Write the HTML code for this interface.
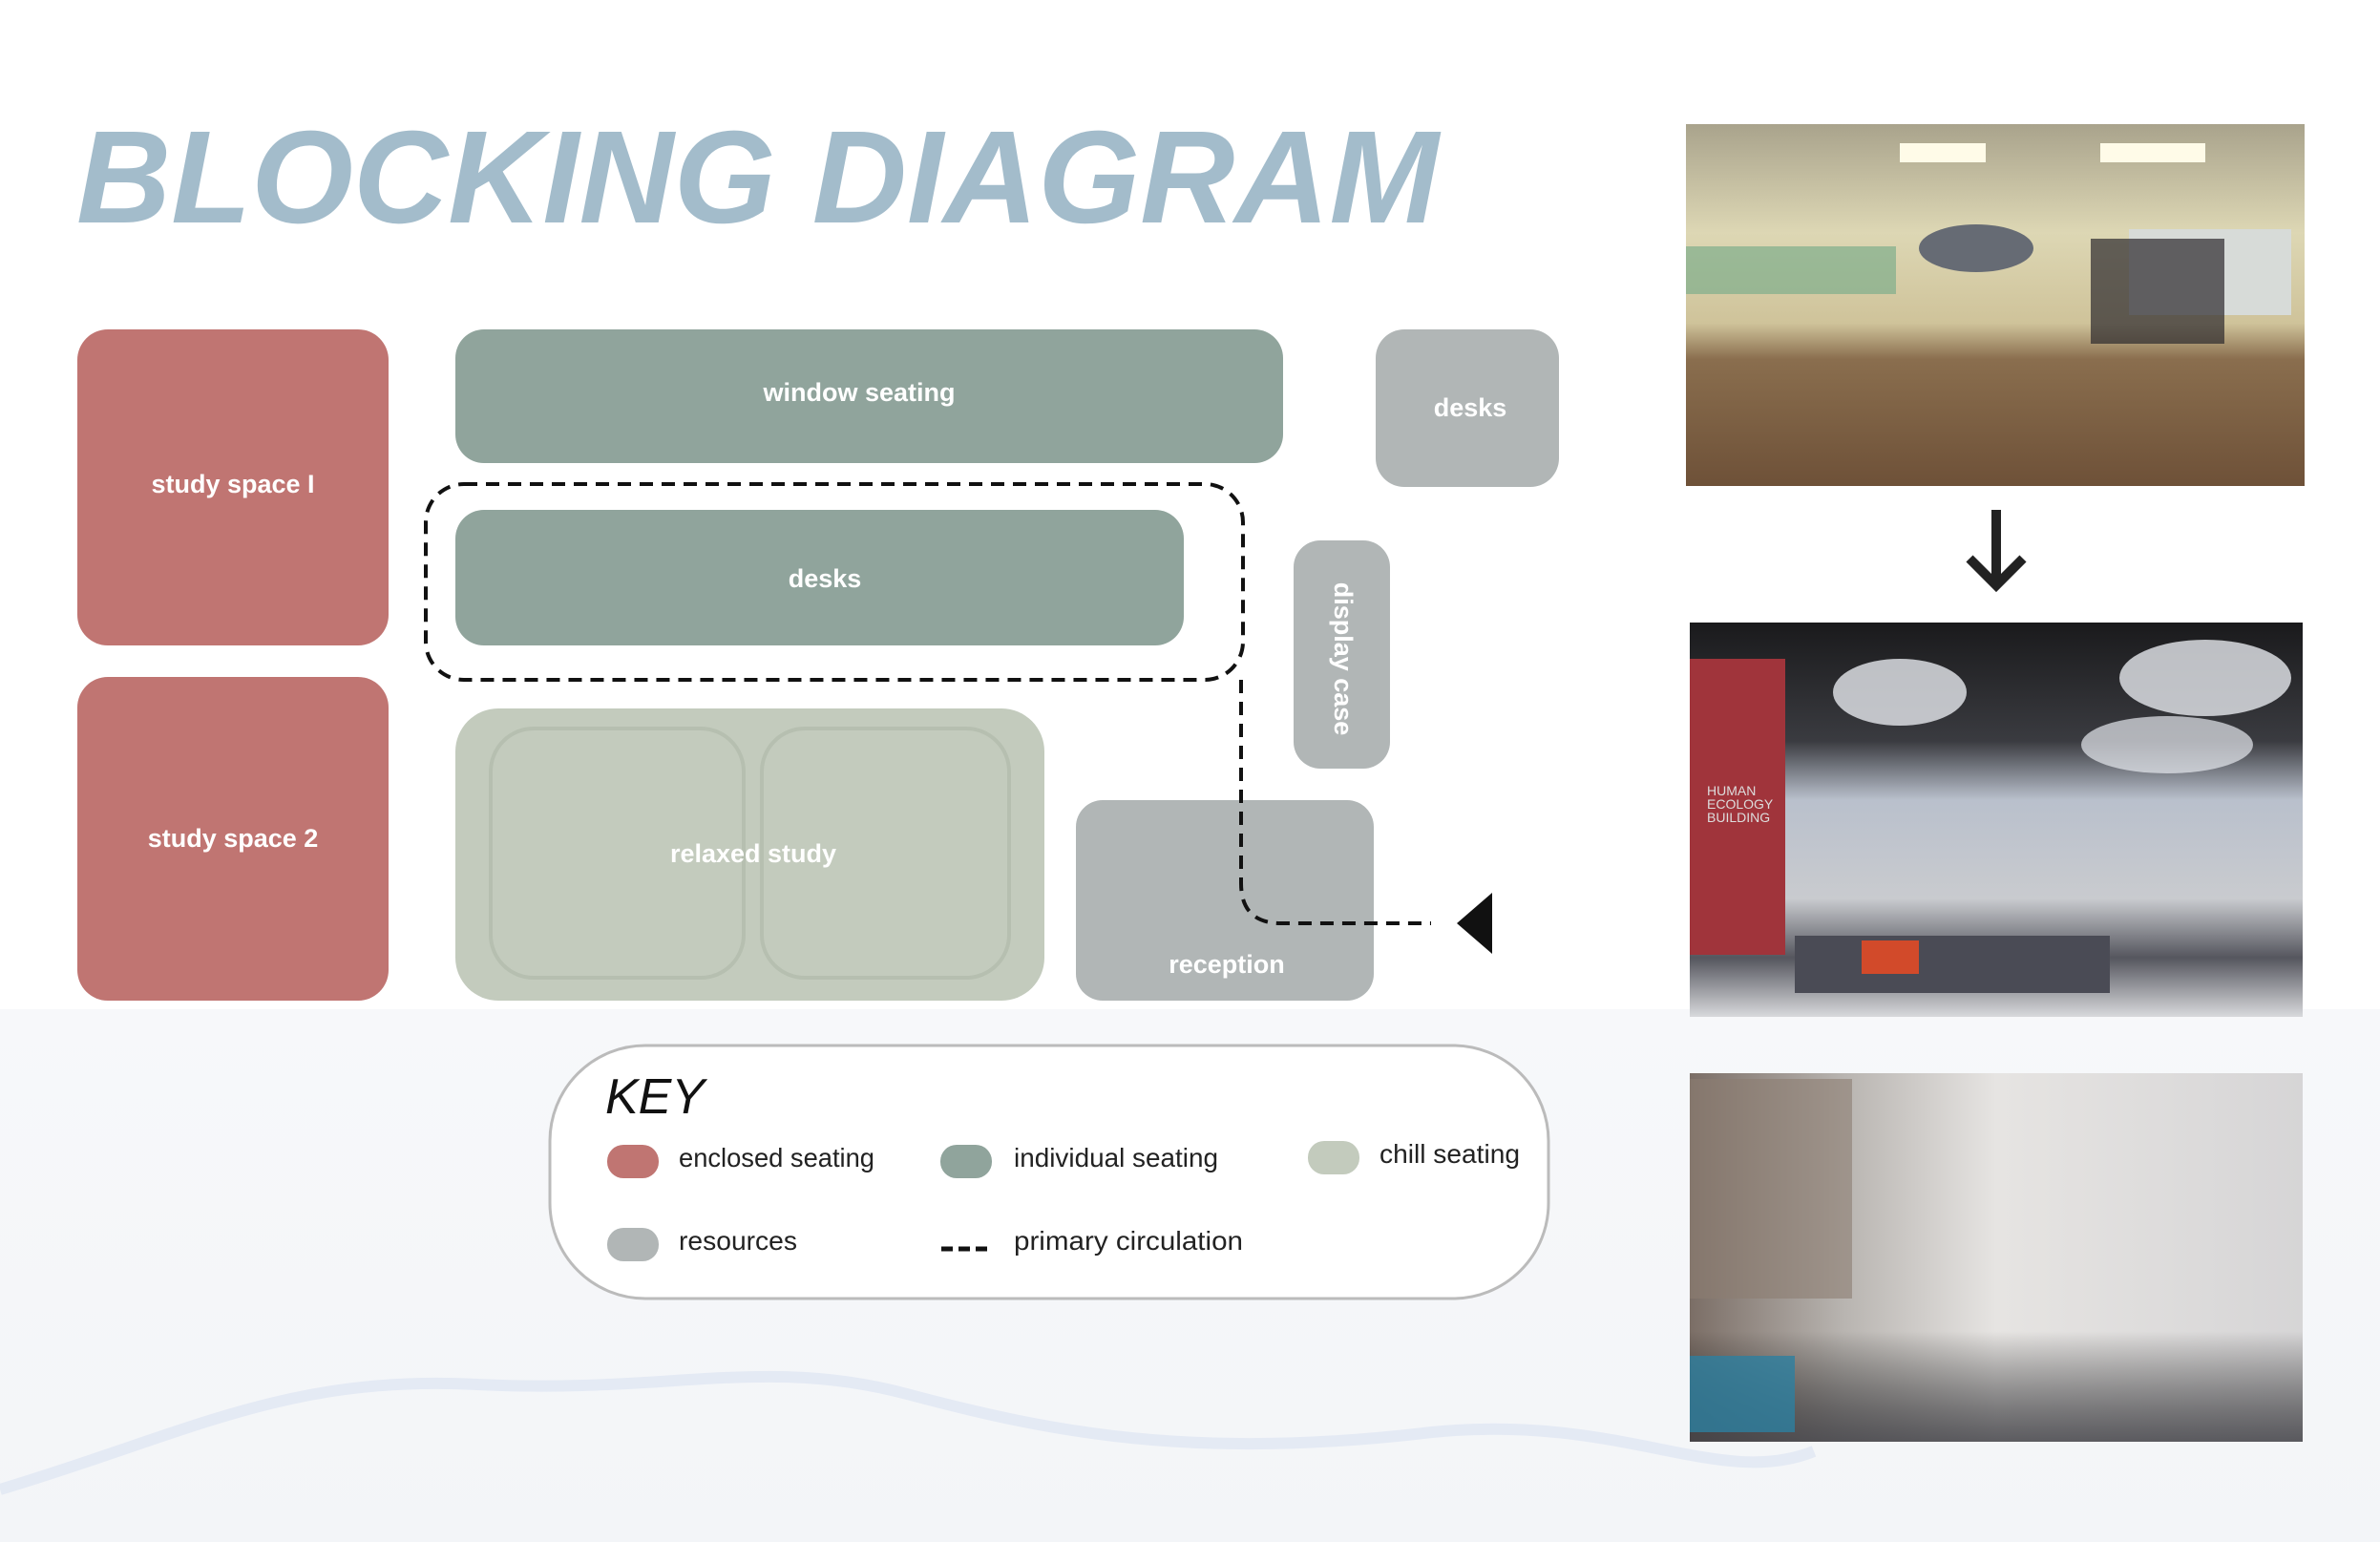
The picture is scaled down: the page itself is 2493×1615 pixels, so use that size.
<!DOCTYPE html>
<html><head><meta charset="utf-8"><style>
html,body{margin:0;padding:0;background:#fff}
svg{display:block}
text{font-family:"Liberation Sans",sans-serif}
</style></head><body>
<svg width="2493" height="1615" viewBox="0 0 2493 1615" xmlns="http://www.w3.org/2000/svg">
<defs>
<linearGradient id="bg" x1="0" y1="0" x2="0" y2="1">
<stop offset="0" stop-color="#f7f8fa"/><stop offset="1" stop-color="#f3f5f8"/></linearGradient>
<linearGradient id="p1" x1="0" y1="0" x2="0" y2="1">
<stop offset="0" stop-color="#a9a38c"/><stop offset="0.3" stop-color="#ddd7b4"/><stop offset="0.55" stop-color="#cfc39a"/><stop offset="0.65" stop-color="#8a6e4e"/><stop offset="1" stop-color="#6e5138"/></linearGradient>
<linearGradient id="p2" x1="0" y1="0" x2="0" y2="1">
<stop offset="0" stop-color="#1a1a1c"/><stop offset="0.3" stop-color="#3a3b40"/><stop offset="0.45" stop-color="#b9c0cc"/><stop offset="0.7" stop-color="#c9cbcf"/><stop offset="0.85" stop-color="#55565e"/><stop offset="1" stop-color="#d8d9dc"/></linearGradient>
<linearGradient id="p3" x1="0" y1="0" x2="1" y2="0">
<stop offset="0" stop-color="#7b6e66"/><stop offset="0.25" stop-color="#b8b4b0"/><stop offset="0.5" stop-color="#e6e4e2"/><stop offset="1" stop-color="#d6d5d6"/></linearGradient>
<linearGradient id="p3b" x1="0" y1="0" x2="0" y2="1">
<stop offset="0" stop-color="#000" stop-opacity="0"/><stop offset="0.7" stop-color="#000" stop-opacity="0"/><stop offset="1" stop-color="#3a3a40" stop-opacity="0.8"/></linearGradient>
</defs>
<rect x="0" y="1057" width="2493" height="558" fill="url(#bg)"/>
<path d="M0 1560 C200 1500 300 1440 500 1450 C700 1460 800 1420 950 1460 C1100 1500 1250 1530 1500 1500 C1700 1480 1800 1560 1900 1520" fill="none" stroke="#e4eaf4" stroke-width="12"/>

<text x="80" y="233" font-size="138" font-weight="bold" font-style="italic" fill="#a3bccb" textLength="1427" lengthAdjust="spacingAndGlyphs">BLOCKING DIAGRAM</text>

<g font-weight="bold" font-size="27" fill="#fff" text-anchor="middle">
<rect x="81" y="345" width="326" height="331" rx="32" fill="#c07572"/>
<text x="244" y="516">study space I</text>
<rect x="81" y="709" width="326" height="339" rx="32" fill="#c07572"/>
<text x="244" y="887">study space 2</text>
<rect x="477" y="345" width="867" height="140" rx="30" fill="#90a49c"/>
<text x="900" y="420">window seating</text>
<rect x="477" y="534" width="763" height="142" rx="30" fill="#90a49c"/>
<text x="864" y="615">desks</text>
<rect x="1441" y="345" width="192" height="165" rx="30" fill="#b1b6b6"/>
<text x="1540" y="436">desks</text>
<rect x="1355" y="566" width="101" height="239" rx="28" fill="#b1b6b6"/>
<text transform="translate(1398 690) rotate(90)" x="0" y="0">display case</text>
<rect x="477" y="742" width="617" height="306" rx="45" fill="#c3cbbd"/>
<rect x="514" y="763" width="265" height="261" rx="45" fill="none" stroke="#b6bfb0" stroke-width="4"/>
<rect x="798" y="763" width="259" height="261" rx="45" fill="none" stroke="#b6bfb0" stroke-width="4"/>
<text x="789" y="903">relaxed study</text>
<rect x="1127" y="838" width="312" height="210" rx="28" fill="#b1b6b6"/>
<text x="1285" y="1019">reception</text>
</g>

<rect x="446" y="507" width="856" height="205" rx="40" fill="none" stroke="#111" stroke-width="4" stroke-dasharray="14 9"/>
<path d="M1300 712 V925 Q1300 967 1342 967 H1499" fill="none" stroke="#111" stroke-width="4" stroke-dasharray="14 9"/>
<polygon points="1526,967 1563,935 1563,999" fill="#111"/>

<rect x="576" y="1095" width="1046" height="265" rx="100" fill="#fff" stroke="#bbb" stroke-width="3"/>
<text x="634" y="1166" font-size="52" font-style="italic" fill="#111">KEY</text>
<g font-size="28" fill="#222">
<rect x="636" y="1199" width="54" height="35" rx="17" fill="#c07572"/>
<text x="711" y="1222" textLength="205" lengthAdjust="spacingAndGlyphs">enclosed seating</text>
<rect x="985" y="1199" width="54" height="35" rx="17" fill="#90a49c"/>
<text x="1062" y="1222" textLength="214" lengthAdjust="spacingAndGlyphs">individual seating</text>
<rect x="1370" y="1195" width="54" height="35" rx="17" fill="#c3cbbd"/>
<text x="1445" y="1218" textLength="147" lengthAdjust="spacingAndGlyphs">chill seating</text>
<rect x="636" y="1286" width="54" height="35" rx="17" fill="#b1b6b6"/>
<text x="711" y="1309" textLength="124" lengthAdjust="spacingAndGlyphs">resources</text>
<path d="M986 1308 H1040" stroke="#111" stroke-width="5" stroke-dasharray="12 6"/>
<text x="1062" y="1309" textLength="240" lengthAdjust="spacingAndGlyphs">primary circulation</text>
</g>

<rect x="1766" y="130" width="648" height="379" fill="url(#p1)"/>
<rect x="1766" y="258" width="220" height="50" fill="#7fae8c" opacity="0.7"/>
<rect x="1990" y="150" width="90" height="20" fill="#fffbe8"/><rect x="2200" y="150" width="110" height="20" fill="#fffbe8"/>
<rect x="2230" y="240" width="170" height="90" fill="#d7dbd8"/>
<ellipse cx="2070" cy="260" rx="60" ry="25" fill="#666b74"/>
<rect x="2190" y="250" width="140" height="110" fill="#2c2a2e" opacity="0.7"/>

<path d="M2091 534 V610 M2063 585 L2091 613 L2119 585" fill="none" stroke="#222" stroke-width="10"/>

<rect x="1770" y="652" width="642" height="413" fill="url(#p2)"/>
<rect x="1770" y="690" width="100" height="310" fill="#a0343b"/>
<text x="1788" y="833" font-size="14" fill="#ddd">HUMAN</text>
<text x="1788" y="847" font-size="14" fill="#ddd">ECOLOGY</text>
<text x="1788" y="861" font-size="14" fill="#ddd">BUILDING</text>
<ellipse cx="1990" cy="725" rx="70" ry="35" fill="#e6e8ee" opacity="0.8"/>
<ellipse cx="2310" cy="710" rx="90" ry="40" fill="#e6e8ee" opacity="0.8"/>
<ellipse cx="2270" cy="780" rx="90" ry="30" fill="#e6e8ee" opacity="0.7"/>
<rect x="1880" y="980" width="330" height="60" fill="#4a4b55"/>
<rect x="1950" y="985" width="60" height="35" fill="#d24a2a"/>

<rect x="1770" y="1124" width="642" height="386" fill="url(#p3)"/>
<rect x="1770" y="1124" width="642" height="386" fill="url(#p3b)"/>
<rect x="1770" y="1130" width="170" height="230" fill="#8c7d72" opacity="0.6"/>
<rect x="1770" y="1420" width="110" height="80" fill="#2d7fa0" opacity="0.8"/>
</svg>
</body></html>
